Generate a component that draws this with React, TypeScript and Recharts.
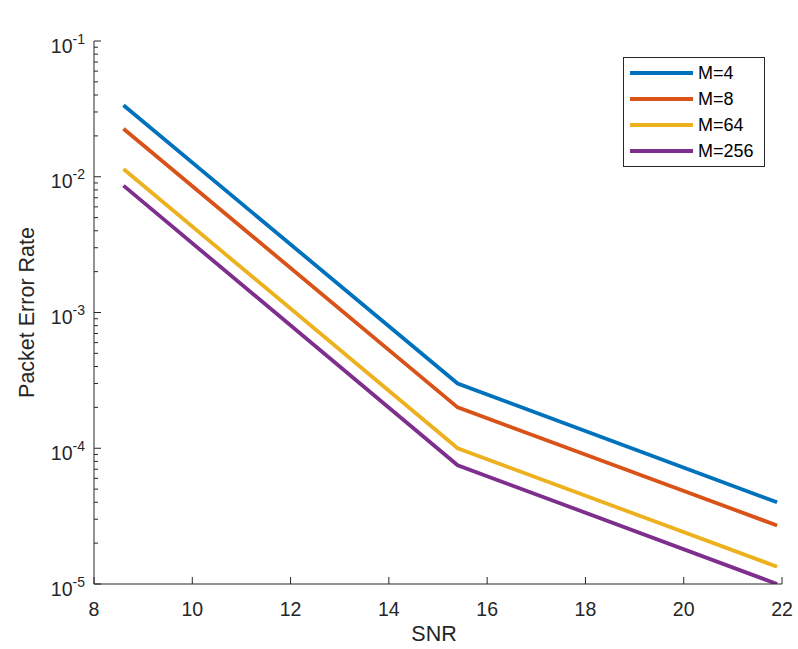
import { LineChart, Line, XAxis, YAxis, Legend, Label } from "recharts";

// SNR sample points (dB)
const snr = [8.6, 15.4, 21.9];

// packet error rate per modulation order
const perM4 = [0.0336, 3.0e-4, 4.0e-5];
const perM8 = [0.0226, 2.0e-4, 2.7e-5];
const perM64 = [0.0114, 1.0e-4, 1.34e-5];
const perM256 = [0.0086, 7.5e-5, 1.0e-5];

const xTicks = [8, 10, 12, 14, 16, 18, 20, 22];
const decades = [1e-5, 1e-4, 1e-3, 1e-2, 1e-1];

const series = [
  { key: "m4", name: "M=4", color: "#0072BD", values: perM4 },
  { key: "m8", name: "M=8", color: "#D95319", values: perM8 },
  { key: "m64", name: "M=64", color: "#EDB120", values: perM64 },
  { key: "m256", name: "M=256", color: "#7E2F8E", values: perM256 },
];

// major decade ticks plus 2..9 minor ticks in between
const yTicks: number[] = [];
decades.slice(0, -1).forEach((d) => {
  for (let k = 1; k <= 9; k++) yTicks.push(k * d);
});
yTicks.push(decades[decades.length - 1]);

const rows = snr.map((s, i) => {
  const row: Record<string, number> = { snr: s };
  series.forEach((sr) => (row[sr.key] = sr.values[i]));
  return row;
});

const FONT = "'Liberation Sans', Arial, Helvetica, sans-serif";
const AX = "#262626";
const MAJOR = 7;
const MINOR = 4;

const isDecade = (v: number) =>
  Math.abs(Math.log10(v) - Math.round(Math.log10(v))) < 1e-6;

function LeftTick({ x, y, payload }: any) {
  const v = payload.value;
  const major = isDecade(v);
  return (
    <g>
      <line x1={x} x2={x + (major ? MAJOR : MINOR)} y1={y} y2={y} stroke={AX} />
      {major && (
        <text x={x - 9} y={y + 11.7} textAnchor="end" fontSize={19.5} fill={AX} fontFamily={FONT}>
          10
          <tspan dy={-9} fontSize={14}>
            {Math.round(Math.log10(v))}
          </tspan>
        </text>
      )}
    </g>
  );
}

function RightTick({ x, y, payload }: any) {
  const major = isDecade(payload.value);
  return <line x1={x} x2={x - (major ? MAJOR : MINOR)} y1={y} y2={y} stroke={AX} />;
}

function BottomTick({ x, y, payload }: any) {
  return (
    <g>
      <line x1={x} x2={x} y1={y} y2={y - MAJOR} stroke={AX} />
      <text x={x} y={y + 32} textAnchor="middle" fontSize={19.5} fill={AX} fontFamily={FONT}>
        {payload.value}
      </text>
    </g>
  );
}

function TopTick({ x, y }: any) {
  return <line x1={x} x2={x} y1={y} y2={y + MAJOR} stroke={AX} />;
}

function LegendBox() {
  return (
    <div
      style={{
        boxSizing: "border-box",
        width: 142,
        border: `1px solid ${AX}`,
        background: "#fff",
        padding: "2px 0 2px 6px",
        fontFamily: FONT,
        fontSize: 18,
        color: "#000",
      }}
    >
      {series.map((s) => (
        <div key={s.key} style={{ display: "flex", alignItems: "center", height: 26 }}>
          <span style={{ width: 63, height: 4, background: s.color, display: "block" }} />
          <span style={{ marginLeft: 5 }}>{s.name}</span>
        </div>
      ))}
    </div>
  );
}

export default function App() {
  return (
    <div style={{ position: "absolute", left: 0, top: 0, background: "#fff" }}>
      <LineChart width={798} height={649} data={rows} margin={{ top: 41, right: 16, bottom: 0, left: 0 }}>
        <XAxis
          dataKey="snr"
          type="number"
          domain={[8, 22]}
          ticks={xTicks}
          height={65}
          tickSize={0}
          tickMargin={0}
          tickLine={false}
          stroke={AX}
          tick={BottomTick}
          interval={0}
        >
          <Label
            content={({ viewBox }: any) => (
              <text
                x={viewBox.x + viewBox.width / 2 - 4}
                y={viewBox.y + 57}
                textAnchor="middle"
                fontSize={21.5}
                fill={AX}
                fontFamily={FONT}
              >
                SNR
              </text>
            )}
          />
        </XAxis>
        <XAxis
          xAxisId="top"
          orientation="top"
          dataKey="snr"
          type="number"
          domain={[8, 22]}
          ticks={xTicks}
          height={0}
          tickSize={0}
          tickMargin={0}
          tickLine={false}
          stroke={AX}
          tick={TopTick}
          interval={0}
        >
          <Label
            content={({ viewBox }: any) => (
              <text
                x={viewBox.x + viewBox.width / 2 + 2}
                y={viewBox.y - 13}
                textAnchor="middle"
                fontSize={21.3}
                fontWeight="bold"
                fill="#000"
                fontFamily={FONT}
              >
                PER of RS in AWGN Channel
              </text>
            )}
          />
        </XAxis>
        <YAxis
          type="number"
          scale="log"
          domain={[1e-5, 1e-1]}
          allowDataOverflow
          ticks={yTicks}
          width={94}
          tickSize={0}
          tickMargin={0}
          tickLine={false}
          stroke={AX}
          tick={LeftTick}
          interval={0}
        >
          <Label
            content={({ viewBox }: any) => {
              const cx = viewBox.x + 34;
              const cy = viewBox.y + viewBox.height / 2;
              return (
                <text
                  x={cx}
                  y={cy}
                  transform={`rotate(-90 ${cx} ${cy})`}
                  textAnchor="middle"
                  fontSize={21.5}
                  fill={AX}
                  fontFamily={FONT}
                >
                  Packet Error Rate
                </text>
              );
            }}
          />
        </YAxis>
        <YAxis
          yAxisId="right"
          orientation="right"
          type="number"
          scale="log"
          domain={[1e-5, 1e-1]}
          allowDataOverflow
          ticks={yTicks}
          width={0}
          tickSize={0}
          tickMargin={0}
          tickLine={false}
          stroke={AX}
          tick={RightTick}
          interval={0}
        />
        <Legend
          layout="horizontal"
          verticalAlign="middle"
          align="center"
          content={LegendBox}
          wrapperStyle={{ left: 623, top: 57, width: "auto", height: "auto" }}
        />
        {series.map((s) => (
          <Line
            key={s.key}
            dataKey={s.key}
            name={s.name}
            type="linear"
            stroke={s.color}
            strokeWidth={3.8}
            dot={false}
            activeDot={false}
            isAnimationActive={false}
          />
        ))}
      </LineChart>
    </div>
  );
}
